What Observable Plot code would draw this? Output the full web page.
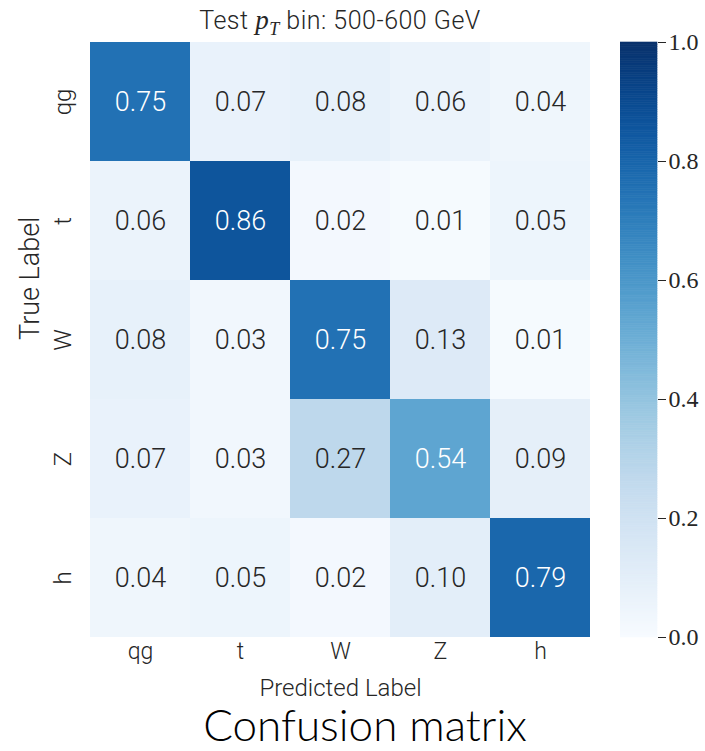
<!DOCTYPE html>
<html><head><meta charset="utf-8">
<script src="https://cdn.jsdelivr.net/npm/d3@7"></script>
<script src="https://cdn.jsdelivr.net/npm/@observablehq/plot@0.6"></script>
<style>
body{margin:0;background:#fff;}
#wrap{position:relative;width:705px;height:751px;overflow:hidden;font-family:Roboto,sans-serif;font-weight:300;color:#262626;}
#title{position:absolute;top:4px;left:90px;width:500px;text-align:center;font-size:25px;letter-spacing:0.5px;line-height:1.2;}
#title i{font-family:"Liberation Serif",serif;font-size:27px;font-weight:400;}
#title sub{font-family:"Liberation Serif",serif;font-style:italic;font-weight:400;font-size:18px;}
#caption{position:absolute;top:704px;left:0;width:730px;text-align:center;font-family:Lato,sans-serif;font-weight:300;font-size:44px;color:#000;line-height:0.95;}
#main{position:absolute;left:0;top:0;}
#cbar{position:absolute;left:620px;top:0;}
</style></head>
<body><div id="wrap">
<div id="title">Test <i>p</i><sub>T</sub> bin: 500-600 GeV</div>
<div id="main"></div><div id="cbar"></div>
<div id="caption">Confusion matrix</div>
</div>
<script>
const labels = ["qg","t","W","Z","h"];
const rowQg = [0.75,0.07,0.08,0.06,0.04];
const rowT  = [0.06,0.86,0.02,0.01,0.05];
const rowW  = [0.08,0.03,0.75,0.13,0.01];
const rowZ  = [0.07,0.03,0.27,0.54,0.09];
const rowH  = [0.04,0.05,0.02,0.10,0.79];
const rows = [rowQg,rowT,rowW,rowZ,rowH];
const colorTicks = [0,0.2,0.4,0.6,0.8,1.0];

const cells = [];
rows.forEach((r,i)=>r.forEach((v,j)=>cells.push({trueL:labels[i],pred:labels[j],value:v})));

const main = Plot.plot({
  width:600,height:700,
  marginLeft:90,marginRight:10,marginTop:42,marginBottom:63,
  style:{fontFamily:"Roboto, sans-serif",fontWeight:300,fontSize:"24px",color:"#262626",background:"transparent"},
  x:{domain:labels,padding:0,label:null,tickSize:0},
  y:{domain:labels,padding:0,label:null,tickSize:0},
  color:{type:"linear",scheme:"blues",domain:[0,1]},
  marks:[
    Plot.cell(cells,{x:"pred",y:"trueL",fill:"value",inset:0}),
    Plot.text(cells,{x:"pred",y:"trueL",text:d=>d.value.toFixed(2),fontSize:27,fontWeight:300,
      fill:d=>d.value>0.45?"white":"#262626"}),
    Plot.axisY({tickSize:0,tickRotate:-90,tickPadding:20,fontSize:24,fontWeight:300,label:null}),
    Plot.axisX({tickSize:0,tickPadding:5,fontSize:23,fontWeight:300,label:null}),
    Plot.text(["Predicted Label"],{frameAnchor:"bottom",dy:58,fontSize:24,fontWeight:300,text:d=>d}),
    Plot.text(["True Label"],{frameAnchor:"left",dx:-60,rotate:-90,fontSize:27,fontWeight:300,text:d=>d})
  ]
});
document.getElementById("main").appendChild(main);

const steps = d3.range(0,256).map(i=>({y1:i/256,y2:(i+1)/256,v:(i+0.5)/256}));
const cbar = Plot.plot({
  width:85,height:700,
  marginLeft:0,marginRight:48,marginTop:42,marginBottom:63,
  style:{fontFamily:"Liberation Serif, serif",fontSize:"24px",color:"#262626",background:"transparent"},
  x:{axis:null,domain:[0,1]},
  y:{domain:[0,1],ticks:colorTicks,tickFormat:d3.format(".1f"),label:null},
  color:{type:"linear",scheme:"blues",domain:[0,1]},
  marks:[
    Plot.rectY(steps,{x1:0,x2:1,y1:"y1",y2:"y2",fill:"v",stroke:"v",strokeWidth:0.6,inset:0}),
    Plot.axisY({anchor:"right",ticks:colorTicks,tickFormat:d3.format(".1f"),tickSize:8,tickPadding:3,fontSize:24,label:null,fontFamily:"Liberation Serif, serif"})
  ]
});
document.getElementById("cbar").appendChild(cbar);
</script></body></html>
